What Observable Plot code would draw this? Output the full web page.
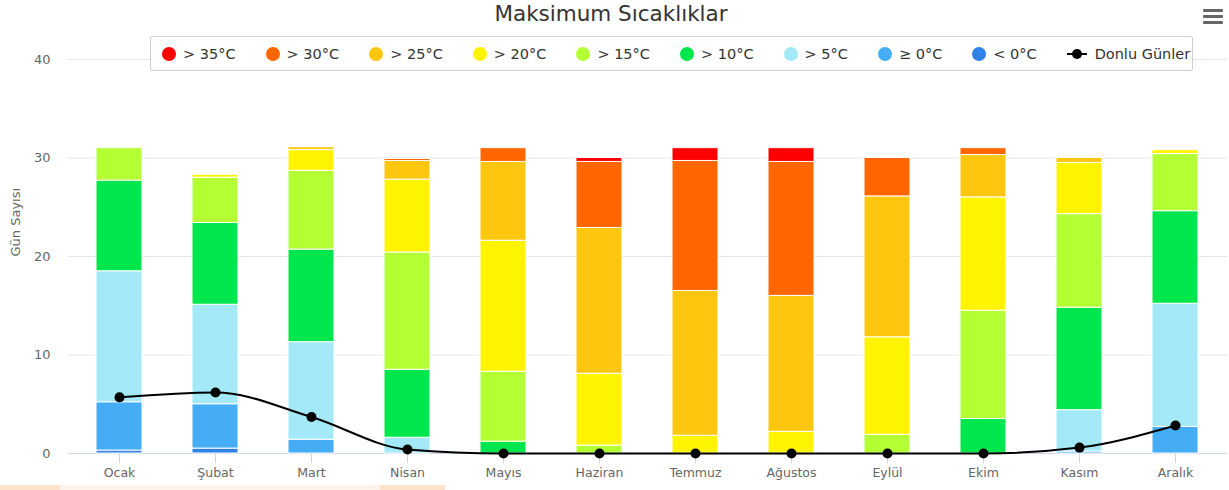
<!DOCTYPE html>
<html>
<head>
<meta charset="utf-8">
<script src="https://cdn.jsdelivr.net/npm/d3@7"></script>
<script src="https://cdn.jsdelivr.net/npm/@observablehq/plot@0.6"></script>
<style>
  html, body { margin: 0; padding: 0; background: #fff; }
  body { width: 1229px; height: 490px; position: relative; overflow: hidden; font-family: "DejaVu Sans", sans-serif; }
  #title { position: absolute; left: 0; top: 0; width: 1222px; text-align: center; font-size: 21.5px; color: #333; line-height: 28px; z-index: 2; }
  #menu { position: absolute; left: 1203px; top: 9px; width: 20px; height: 16px; z-index: 2; }
  #menu div { height: 3px; background: #666; margin-bottom: 3px; border-radius: 1px; }
  #legend { position: absolute; left: 150px; top: 36px; width: 1030px; height: 33px; border: 1px solid #cfcfcf; border-radius: 2px; background: #fff; z-index: 2; display: flex; align-items: center; padding-left: 11px; box-sizing: content-box; }
  .item { display: flex; align-items: center; margin-right: 30px; font-size: 14.5px; color: #333; white-space: nowrap; }
  .sw { width: 14px; height: 14px; border-radius: 50%; margin-right: 7px; }
  .ls { position: relative; width: 20px; height: 14px; margin-right: 8px; }
  .ls .l { position: absolute; left: 0; top: 6px; width: 20px; height: 2px; background: #000; }
  .ls .d { position: absolute; left: 5px; top: 2px; width: 10px; height: 10px; border-radius: 50%; background: #000; }
  #chart { position: absolute; left: 0; top: 0; }
  .strip { position: absolute; top: 485px; height: 5px; }
</style>
</head>
<body>
<div id="title"></div>
<div id="menu"><div></div><div></div><div></div></div>
<div id="legend"></div>
<div id="chart"></div>
<div class="strip" style="left:0;width:60px;background:#fde3cc"></div>
<div class="strip" style="left:60px;width:320px;background:#fef3ea"></div>
<div class="strip" style="left:380px;width:65px;background:#fde3cc"></div>
<script>
const titleText = "Maksimum Sıcaklıklar";
const yLabel = "Gün Sayısı";
const months = ["Ocak","Şubat","Mart","Nisan","Mayıs","Haziran","Temmuz","Ağustos","Eylül","Ekim","Kasım","Aralık"];
const seriesNames = ["< 0°C","≥ 0°C","> 5°C","> 10°C","> 15°C","> 20°C","> 25°C","> 30°C","> 35°C"];
const seriesColors = ["#3082e6","#44adf5","#a3e9f7","#00e64d","#b3ff33","#fff400","#fdc70f","#ff6600","#ff0000"];
const lineName = "Donlu Günler";

const lt0  = [0.3, 0.5, 0,   0,    0,    0,    0,    0,    0,    0,    0,    0];
const ge0  = [4.9, 4.5, 1.4, 0,    0,    0,    0,    0,    0,    0,    0.2,  2.7];
const gt5  = [13.3,10.1,9.9, 1.6,  0,    0,    0,    0,    0,    0,    4.2,  12.5];
const gt10 = [9.2, 8.3, 9.4, 6.9,  1.2,  0,    0,    0,    0,    3.5,  10.4, 9.4];
const gt15 = [3.3, 4.6, 8.0, 11.9, 7.1,  0.8,  0,    0,    1.9,  11.0, 9.5,  5.8];
const gt20 = [0,   0.3, 2.1, 7.4,  13.3, 7.3,  1.8,  2.2,  9.9,  11.5, 5.2,  0.4];
const gt25 = [0,   0,   0.3, 1.9,  8.0,  14.8, 14.7, 13.8, 14.3, 4.3,  0.5,  0];
const gt30 = [0,   0,   0,   0.2,  1.4,  6.7,  13.2, 13.6, 3.9,  0.7,  0,    0];
const gt35 = [0,   0,   0,   0,    0,    0.4,  1.3,  1.4,  0,    0,    0,    0];
const frostDays = [5.7, 6.2, 3.7, 0.4, 0, 0, 0, 0, 0, 0, 0.6, 2.85];
const yTicks = [0, 10, 20, 30, 40];

const seriesValues = [lt0, ge0, gt5, gt10, gt15, gt20, gt25, gt30, gt35];
const rows = [];
months.forEach((m, i) => {
  seriesValues.forEach((vals, s) => {
    rows.push({month: m, series: seriesNames[s], value: vals[i]});
  });
});
const frostRows = months.map((m, i) => ({month: m, value: frostDays[i]}));

document.getElementById("title").textContent = titleText;

// legend (top series first)
const legend = document.getElementById("legend");
for (let s = seriesNames.length - 1; s >= 0; s--) {
  const it = document.createElement("div");
  it.className = "item";
  const sw = document.createElement("div");
  sw.className = "sw";
  sw.style.background = seriesColors[s];
  it.appendChild(sw);
  const t = document.createElement("span");
  t.textContent = seriesNames[s];
  it.appendChild(t);
  legend.appendChild(it);
}
{
  const it = document.createElement("div");
  it.className = "item";
  it.style.marginRight = "0";
  it.innerHTML = '<div class="ls"><div class="l"></div><div class="d"></div></div>';
  const t = document.createElement("span");
  t.textContent = lineName;
  it.appendChild(t);
  legend.appendChild(it);
}

const chart = Plot.plot({
  width: 1229,
  height: 490,
  marginTop: 59,
  marginBottom: 37,
  marginLeft: 68,
  marginRight: 2,
  style: {fontFamily: "DejaVu Sans, sans-serif", fontSize: "12.5px", background: "transparent"},
  x: {domain: months, paddingInner: 0.52, paddingOuter: 0.26, label: null},
  y: {domain: [0, 40], label: null},
  color: {domain: seriesNames, range: seriesColors},
  marks: [
    Plot.gridY(yTicks, {stroke: "#e6e6e6", strokeOpacity: 1}),
    Plot.axisY(yTicks, {tickSize: 0, tickPadding: 18, fill: "#666", fontSize: 13, label: null}),
    Plot.text([yLabel], {frameAnchor: "left", dx: -53, rotate: -90, fill: "#666", fontSize: 13}),
    Plot.ruleY([0], {stroke: "#ccd6eb", strokeWidth: 1}),
    Plot.axisX({tickSize: 10, tickPadding: 5, stroke: "#ccd6eb", strokeOpacity: 1, fill: "#666", fontSize: 12.5, label: null}),
    Plot.barY(rows, {x: "month", y: "value", fill: "series", stroke: "white", strokeWidth: 1}),
    Plot.line(frostRows, {x: "month", y: "value", curve: "monotone-x", stroke: "#000", strokeWidth: 2}),
    Plot.dot(frostRows, {x: "month", y: "value", r: 5, fill: "#000"})
  ]
});
document.getElementById("chart").appendChild(chart);
</script>
</body>
</html>
